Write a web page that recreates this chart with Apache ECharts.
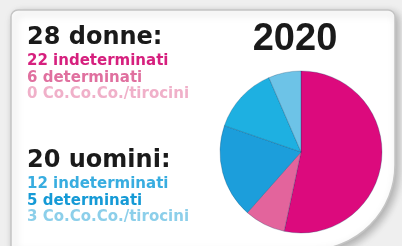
<html>
<head>
    <meta charset="utf-8">
    <title>2020</title>
    <script src="https://cdn.jsdelivr.net/npm/echarts@6/dist/echarts.min.js"></script>
    <style>
        body { margin: 0; background: #efefef; }
    </style>
</head>
<body>

<div id="main" style="width: 402px;height:246px;"></div>

<script type="text/javascript">

    // slice names and sizes as drawn (angle shares)
    var sliceNames = ['donne indeterminati', 'donne determinati', 'uomini indeterminati', 'uomini determinati', 'uomini Co.Co.Co./tirocini'];
    var sliceValues = [192, 29.5, 67.5, 47.6, 23.4];
    var sliceColors = ['#dc0a7d', '#e3649c', '#1c9edb', '#1eb0e1', '#6dc3e7'];

    // text blocks
    var year = '2020';
    var womenTitle = '28 donne:';
    var womenLines = ['22 indeterminati', '6 determinati', '0 Co.Co.Co./tirocini'];
    var womenColors = ['#d6207e', '#e0709f', '#f0b0c9'];
    var menTitle = '20 uomini:';
    var menLines = ['12 indeterminati', '5 determinati', '3 Co.Co.Co./tirocini'];
    var menColors = ['#38ade0', '#159ad6', '#8ccfea'];

    var myChart = echarts.init(document.getElementById('main'));

    var graphics = [];
    // card
    graphics.push({
        type: 'rect',
        z: -10,
        shape: { x: 11, y: 10, width: 384, height: 240, r: [7, 7, 85, 0] },
        style: {
            fill: '#fff', stroke: '#c4c4c4', lineWidth: 1.5,
            shadowBlur: 8, shadowOffsetX: 3, shadowOffsetY: 3, shadowColor: 'rgba(0,0,0,0.28)'
        }
    });

    function addBlock(title, lines, colors, top) {
        graphics.push({
            type: 'text',
            style: {
                text: title, x: 27, y: top, fill: '#1a1a1a',
                font: 'bold 24px "DejaVu Sans"', verticalAlign: 'middle'
            }
        });
        for (var i = 0; i < lines.length; i++) {
            graphics.push({
                type: 'text',
                style: {
                    text: lines[i], x: 27, y: top + 23.6 + i * 16.3, fill: colors[i],
                    font: 'bold 15px "DejaVu Sans"', verticalAlign: 'middle'
                }
            });
        }
    }
    addBlock(womenTitle, womenLines, womenColors, 37.8);
    addBlock(menTitle, menLines, menColors, 160.8);

    graphics.push({
        type: 'text',
        style: {
            text: year, x: 295, y: 40, fill: '#1a1a1a',
            font: 'bold 38px "Liberation Sans"', align: 'center', verticalAlign: 'middle'
        }
    });

    var data = [];
    for (var k = 0; k < sliceValues.length; k++) {
        data.push({ name: sliceNames[k], value: sliceValues[k], itemStyle: { color: sliceColors[k] } });
    }

    var option = {
        animation: false,
        graphic: graphics,
        series: [{
            type: 'pie',
            center: [301, 152],
            radius: 81,
            startAngle: 90,
            clockwise: true,
            label: { show: false },
            labelLine: { show: false },
            emphasis: { disabled: true },
            itemStyle: { borderColor: 'rgba(0,50,90,0.25)', borderWidth: 1 },
            data: data
        }]
    };

    myChart.setOption(option);

</script>
</body>
</html>
